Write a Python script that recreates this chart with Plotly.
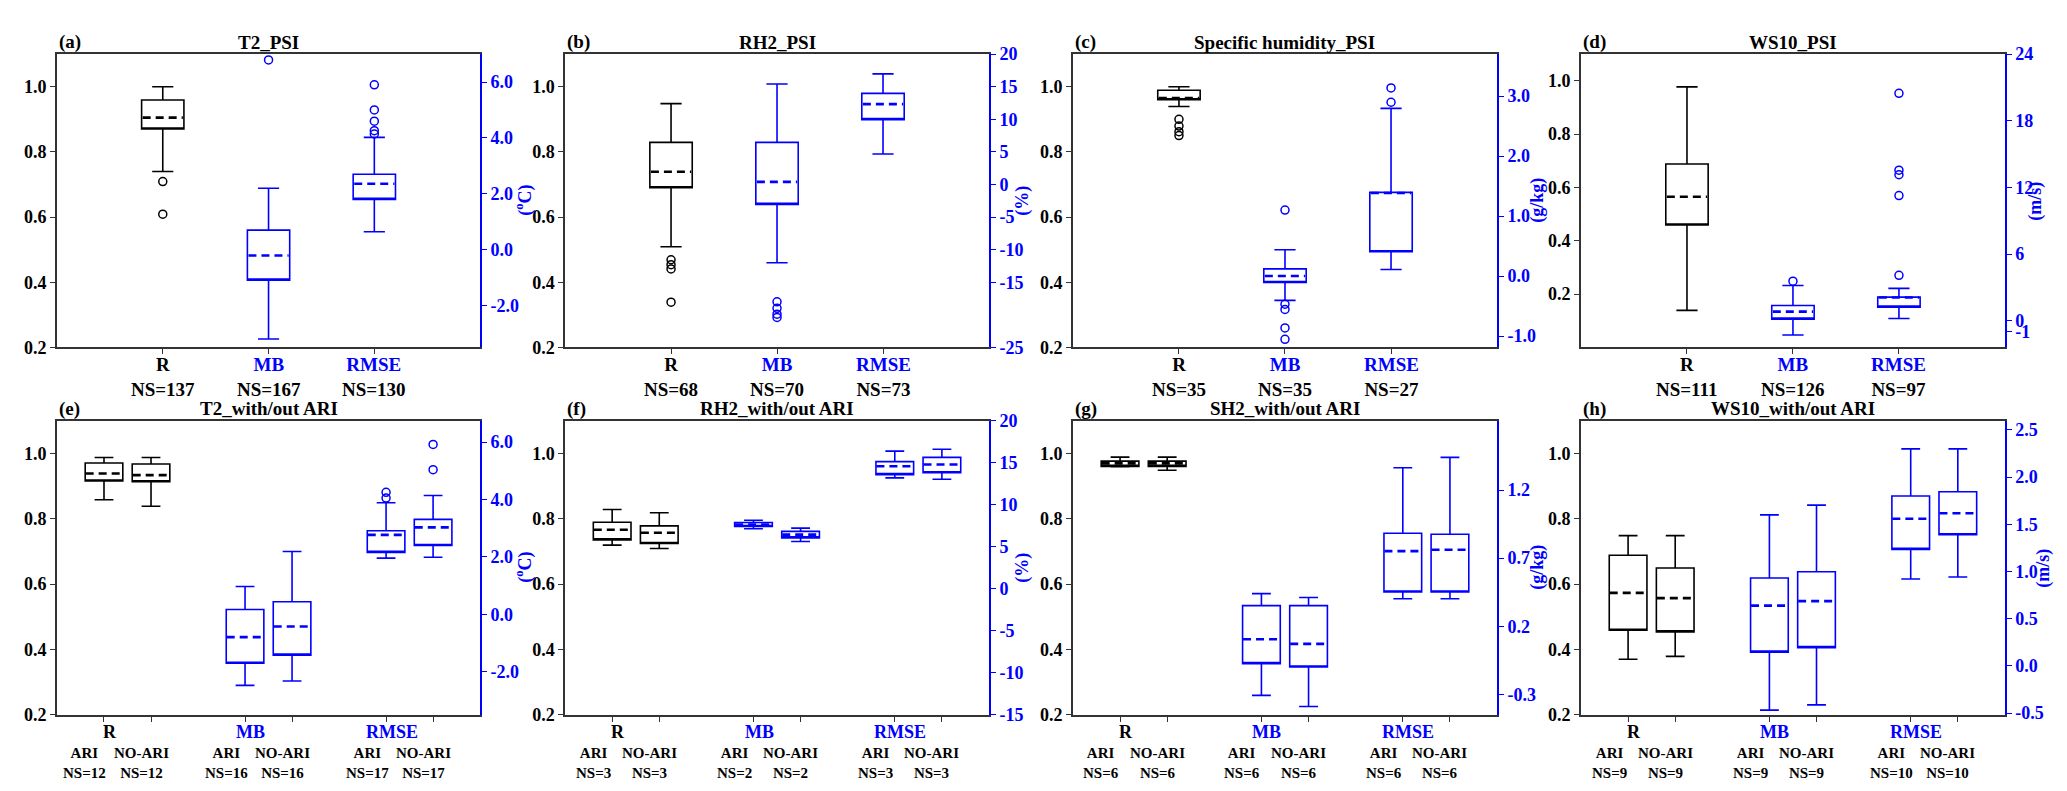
import plotly.graph_objects as go
from plotly.subplots import make_subplots

BLUE = "#0000ff"
FRAME = "#333333"
FONT = "Liberation Serif, Times New Roman, serif"

metrics = ["R", "MB", "RMSE"]
runs = ["ARI", "NO-ARI"]

# box stats per box: [lower whisker, q1, median, q3, upper whisker]
# top row: R, MB, RMSE ; bottom row: R ARI, R NO-ARI, MB ARI, MB NO-ARI, RMSE ARI, RMSE NO-ARI

# (a) T2_PSI
a_stats = [[0.740, 0.870, 0.905, 0.959, 1.000],
           [-3.20, -1.09, -0.21, 0.70, 2.20],
           [0.64, 1.80, 2.36, 2.70, 4.02]]
a_out = [[0.709, 0.609], [6.79], [5.90, 5.00, 4.60, 4.26, 4.14]]
a_ns = [137, 167, 130]

# (b) RH2_PSI
b_stats = [[0.509, 0.690, 0.739, 0.829, 0.948],
           [-12.0, -3.05, 0.39, 6.46, 15.42],
           [4.67, 9.95, 12.33, 13.98, 16.96]]
b_out = [[0.469, 0.454, 0.441, 0.339], [-18.0, -19.0, -19.9, -20.4], []]
b_ns = [68, 70, 73]

# (c) Specific humidity_PSI
c_stats = [[0.939, 0.960, 0.965, 0.989, 1.000],
           [-0.405, -0.108, 0.0, 0.119, 0.438],
           [0.108, 0.405, 1.384, 1.395, 2.795]]
c_out = [[0.900, 0.879, 0.862, 0.850], [1.10, -0.47, -0.557, -0.865, -1.054], [3.135, 2.897]]
c_ns = [35, 35, 27]

# (d) WS10_PSI
d_stats = [[0.139, 0.459, 0.565, 0.688, 0.977],
           [-1.28, 0.15, 0.82, 1.37, 3.18],
           [0.20, 1.23, 2.10, 2.13, 2.92]]
d_out = [[], [3.56], [20.47, 13.55, 13.14, 11.27, 4.09]]
d_ns = [111, 126, 97]

# (e) T2_with/out ARI
e_stats = [[0.858, 0.915, 0.938, 0.970, 0.987],
           [0.838, 0.913, 0.933, 0.967, 0.987],
           [-2.47, -1.70, -0.79, 0.17, 0.97],
           [-2.32, -1.42, -0.42, 0.44, 2.19],
           [1.96, 2.16, 2.77, 2.91, 3.89],
           [1.99, 2.40, 3.03, 3.31, 4.14]]
e_out = [[], [], [], [], [4.25, 4.05], [5.92, 5.04]]
e_ns = [12, 12, 16, 16, 17, 17]

# (f) RH2_with/out ARI
f_stats = [[0.719, 0.735, 0.766, 0.789, 0.828],
           [0.709, 0.724, 0.757, 0.778, 0.818],
           [7.13, 7.40, 7.64, 7.87, 8.14],
           [5.62, 6.05, 6.43, 6.82, 7.21],
           [13.18, 13.57, 14.57, 15.12, 16.36],
           [13.02, 13.80, 14.77, 15.62, 16.59]]
f_out = [[], [], [], [], [], []]
f_ns = [3, 3, 2, 2, 3, 3]

# (g) SH2_with/out ARI
g_stats = [[0.959, 0.960, 0.969, 0.976, 0.988],
           [0.948, 0.960, 0.969, 0.976, 0.988],
           [-0.307, -0.074, 0.105, 0.352, 0.440],
           [-0.388, -0.098, 0.071, 0.352, 0.412],
           [0.402, 0.452, 0.752, 0.883, 1.364],
           [0.402, 0.452, 0.762, 0.876, 1.440]]
g_out = [[], [], [], [], [], []]
g_ns = [6, 6, 6, 6, 6, 6]

# (h) WS10_with/out ARI
h_stats = [[0.370, 0.459, 0.573, 0.688, 0.748],
           [0.379, 0.454, 0.557, 0.649, 0.748],
           [-0.469, 0.145, 0.638, 0.931, 1.60],
           [-0.414, 0.193, 0.686, 0.997, 1.703],
           [0.921, 1.234, 1.559, 1.80, 2.30],
           [0.941, 1.39, 1.617, 1.845, 2.30]]
h_out = [[], [], [], [], [], []]
h_ns = [9, 9, 9, 9, 10, 10]

# left-axis ticks (R)
r_ticks = [0.2, 0.4, 0.6, 0.8, 1.0]
r_text = ["0.2", "0.4", "0.6", "0.8", "1.0"]

panels = [
    dict(tag="(a)", title="T2_PSI", unit="(<sup>o</sup>C)", udx=44, stats=a_stats, out=a_out, ns=a_ns,
         y2=[-3.5, 7.0], t2=[-2, 0, 2, 4, 6], l2=["-2.0", "0.0", "2.0", "4.0", "6.0"], y1=[0.2, 1.1]),
    dict(tag="(b)", title="RH2_PSI", unit="(%)", udx=34, stats=b_stats, out=b_out, ns=b_ns,
         y2=[-25, 20], t2=[-25, -15, -10, -5, 0, 5, 10, 15, 20],
         l2=["-25", "-15", "-10", "-5", "0", "5", "10", "15", "20"], y1=[0.2, 1.1]),
    dict(tag="(c)", title="Specific humidity_PSI", unit="(g/kg)", udx=41, stats=c_stats, out=c_out,
         ns=c_ns, y2=[-1.19, 3.7], t2=[-1, 0, 1, 2, 3], l2=["-1.0", "0.0", "1.0", "2.0", "3.0"],
         y1=[0.2, 1.1]),
    dict(tag="(d)", title="WS10_PSI", unit="(m/s)", udx=31, stats=d_stats, out=d_out, ns=d_ns,
         y2=[-2.4, 24], t2=[-1, 0, 6, 12, 18, 24], l2=["-1", "0", "6", "12", "18", "24"], y1=[0.0, 1.1]),
    dict(tag="(e)", title="T2_with/out ARI", unit="(<sup>o</sup>C)", udx=44, stats=e_stats, out=e_out,
         ns=e_ns, y2=[-3.5, 6.75], t2=[-2, 0, 2, 4, 6], l2=["-2.0", "0.0", "2.0", "4.0", "6.0"],
         y1=[0.2, 1.1]),
    dict(tag="(f)", title="RH2_with/out ARI", unit="(%)", udx=34, stats=f_stats, out=f_out, ns=f_ns,
         y2=[-15, 20], t2=[-15, -10, -5, 0, 5, 10, 15, 20],
         l2=["-15", "-10", "-5", "0", "5", "10", "15", "20"], y1=[0.2, 1.1]),
    dict(tag="(g)", title="SH2_with/out ARI", unit="(g/kg)", udx=41, stats=g_stats, out=g_out,
         ns=g_ns, y2=[-0.45, 1.71], t2=[-0.3, 0.2, 0.7, 1.2], l2=["-0.3", "0.2", "0.7", "1.2"],
         y1=[0.2, 1.1]),
    dict(tag="(h)", title="WS10_with/out ARI", unit="(m/s)", udx=39, stats=h_stats, out=h_out,
         ns=h_ns, y2=[-0.52, 2.6], t2=[-0.5, 0, 0.5, 1.0, 1.5, 2.0, 2.5],
         l2=["-0.5", "0.0", "0.5", "1.0", "1.5", "2.0", "2.5"], y1=[0.2, 1.1]),
]

x_dom = [[0.0237, 0.2284], [0.2695, 0.4746], [0.5152, 0.7204], [0.7610, 0.9661]]
y_dom = [[0.5727, 0.9532], [0.0961, 0.4779]]

fig = make_subplots(rows=2, cols=4, specs=[[{"secondary_y": True}] * 4] * 2)


def bfont(size, color="black"):
    return dict(family=FONT, size=size, color=color, weight="bold")


for idx, p in enumerate(panels):
    row, col = idx // 4 + 1, idx % 4 + 1
    paired = row == 2
    width = 0.8 if paired else 0.4
    sp = fig.get_subplot(row, col)
    xr = "x" + sp.xaxis.plotly_name[5:]
    yr = "y" + sp.yaxis.plotly_name[5:]

    positions = []
    for k, s in enumerate(p["stats"]):
        m = k // 2 if paired else k
        pos = 3 * m + k % 2 + 1 if paired else m + 1
        positions.append(pos)
        color = "black" if m == 0 else BLUE
        sec = m > 0
        lo, q1, med, q3, hi = s
        # box outline (median drawn separately as a dashed line)
        fig.add_trace(go.Box(x=[pos], lowerfence=[lo], q1=[q1], median=[q1], q3=[q3],
                             upperfence=[hi], width=width, whiskerwidth=0.5,
                             line=dict(color=color, width=1.6), fillcolor="rgba(0,0,0,0)",
                             boxpoints=False, hoverinfo="skip"),
                      row=row, col=col, secondary_y=sec)
        fig.add_trace(go.Scatter(x=[pos - width / 2 + 0.01, pos + width / 2 - 0.01], y=[med, med],
                                 mode="lines", hoverinfo="skip",
                                 line=dict(color=color, width=2.6, dash="8px,5px")),
                      row=row, col=col, secondary_y=sec)
        if p["out"][k]:
            fig.add_trace(go.Scatter(x=[pos] * len(p["out"][k]), y=p["out"][k], mode="markers",
                                     hoverinfo="skip",
                                     marker=dict(symbol="circle-open", size=8, color=color,
                                                 line=dict(width=1.5, color=color))),
                          row=row, col=col, secondary_y=sec)

    xrange = [0, 9] if paired else [0, 4]
    fig.update_xaxes(domain=x_dom[col - 1], range=xrange, tickvals=positions, showticklabels=False,
                     ticks="outside", ticklen=5, tickwidth=1.3, tickcolor=FRAME,
                     showline=True, linecolor=FRAME, linewidth=1.6, mirror=True,
                     showgrid=False, zeroline=False, row=row, col=col)
    fig.update_yaxes(domain=y_dom[row - 1], range=p["y1"], tickvals=r_ticks, ticktext=r_text,
                     ticks="outside", ticklen=5, tickwidth=1.3, tickcolor=FRAME, tickfont=bfont(18),
                     showline=True, linecolor=FRAME, linewidth=1.6, showgrid=False, zeroline=False,
                     row=row, col=col, secondary_y=False)
    fig.update_yaxes(range=p["y2"], tickvals=p["t2"], ticktext=p["l2"],
                     ticks="outside", ticklen=5, tickwidth=1.3, tickcolor=BLUE, tickfont=bfont(18, BLUE),
                     showline=True, linecolor=BLUE, linewidth=1.6, showgrid=False, zeroline=False,
                     row=row, col=col, secondary_y=True)

    # unit label of the right axis
    fig.add_annotation(text=p["unit"], xref=xr + " domain", yref=yr + " domain", x=1, y=0.5,
                       xanchor="center", yanchor="middle", xshift=p["udx"], textangle=-90,
                       showarrow=False, font=bfont(18, BLUE))

    # panel tag and title
    fig.add_annotation(text=p["tag"], xref=xr + " domain", yref=yr + " domain", x=0, y=1,
                       xanchor="left", yanchor="middle", yshift=12, showarrow=False, font=bfont(19))
    fig.add_annotation(text=p["title"], xref=xr + " domain", yref=yr + " domain", x=0.5, y=1,
                       xanchor="center", yanchor="middle", yshift=12, showarrow=False, font=bfont(19))

    # category labels under the axis
    if not paired:
        for m, name in enumerate(metrics):
            c = "black" if m == 0 else BLUE
            txt = "<span style='color:%s'>%s</span><br>NS=%d" % (c, name, p["ns"][m])
            fig.add_annotation(text=txt, xref=xr, yref=yr + " domain", x=positions[m], y=0,
                               yanchor="top", yshift=-5, showarrow=False, font=bfont(19))
    else:
        for m, name in enumerate(metrics):
            centre = (positions[2 * m] + positions[2 * m + 1]) / 2
            fig.add_annotation(text=name, xref=xr, yref=yr + " domain", x=centre, y=0,
                               yanchor="middle", yshift=-17, xshift=-18, showarrow=False,
                               font=bfont(18, "black" if m == 0 else BLUE))
            for j, run in enumerate(runs):
                k = 2 * m + j
                sh = -19 if j == 0 else -10
                fig.add_annotation(text="%s<br>NS=%d" % (run, p["ns"][k]), xref=xr,
                                   yref=yr + " domain", x=positions[k], y=0,
                                   yanchor="top", yshift=-28, xshift=sh, showarrow=False,
                                   font=bfont(15))

fig.update_layout(width=2067, height=791, showlegend=False,
                  margin=dict(l=0, r=0, t=0, b=0),
                  paper_bgcolor="white", plot_bgcolor="white",
                  font=bfont(17))

fig.write_html("out.html")
